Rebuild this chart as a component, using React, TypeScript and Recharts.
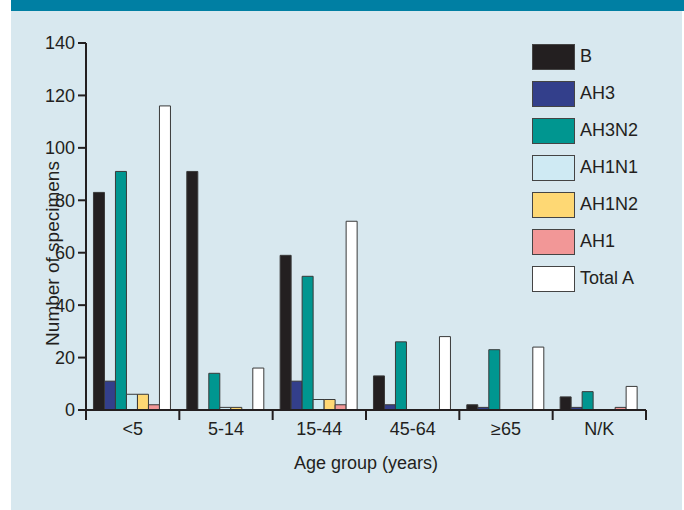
import React from 'react';
import { BarChart, Bar, XAxis, YAxis } from 'recharts';

const ageGroups = ['<5', '5-14', '15-44', '45-64', '≥65', 'N/K'];
const bValues = [83, 91, 59, 13, 2, 5];
const ah3Values = [11, 0, 11, 2, 1, 1];
const ah3n2Values = [91, 14, 51, 26, 23, 7];
const ah1n1Values = [6, 1, 4, 0, 0, 0];
const ah1n2Values = [6, 1, 4, 0, 0, 0];
const ah1Values = [2, 0, 2, 0, 0, 1];
const totalAValues = [116, 16, 72, 28, 24, 9];
const yTicks = [0, 20, 40, 60, 80, 100, 120, 140];

const series = [
  { key: 'B', values: bValues, color: '#231f20' },
  { key: 'AH3', values: ah3Values, color: '#333f8b' },
  { key: 'AH3N2', values: ah3n2Values, color: '#009690' },
  { key: 'AH1N1', values: ah1n1Values, color: '#cfeaf3' },
  { key: 'AH1N2', values: ah1n2Values, color: '#fed874' },
  { key: 'AH1', values: ah1Values, color: '#f29797' },
  { key: 'Total A', values: totalAValues, color: '#ffffff' },
];

const data = ageGroups.map((age, i) => {
  const row: Record<string, any> = { age };
  series.forEach((s) => (row[s.key] = s.values[i]));
  return row;
});

const FONT = '"Liberation Sans", Arial, sans-serif';
const INK = '#231f20';
const FS = 18;
const TICK_GAP = 12;

const LegendBox = () => (
  <div style={{ position: 'absolute', left: 532, top: 38, fontFamily: FONT }}>
    {series.map((s) => (
      <div key={s.key} style={{ display: 'flex', alignItems: 'center', height: 37 }}>
        <div
          style={{
            width: 41,
            height: 24,
            background: s.color,
            border: '1px solid #444',
            boxSizing: 'content-box',
          }}
        />
        <span style={{ marginLeft: 5, fontSize: FS, color: INK }}>{s.key}</span>
      </div>
    ))}
  </div>
);

// category label plus tick marks on the band edges
const AgeTick = (props: any) => {
  const { x, y, payload, index, visibleTicksCount } = props;
  const half = payload.offset || 0;
  const axisY = y - TICK_GAP;
  const isLast = index === visibleTicksCount - 1;
  return (
    <g>
      <line x1={x - half} x2={x - half} y1={axisY} y2={axisY + 10} stroke={INK} strokeWidth={2} />
      {isLast && (
        <line x1={x + half} x2={x + half} y1={axisY} y2={axisY + 10} stroke={INK} strokeWidth={2} />
      )}
      <text x={x} y={y} dy="0.71em" textAnchor="middle" fill={INK} fontSize={FS} fontFamily={FONT}>
        {payload.value}
      </text>
    </g>
  );
};

export default function App() {
  return (
    <div style={{ position: 'fixed', left: 0, top: 0, width: 684, height: 510, background: '#fff' }}>
      <div style={{ position: 'absolute', left: 11, top: 0, width: 671, height: 510, background: '#d8e8ef' }} />
      <div style={{ position: 'absolute', left: 11, top: 0, width: 673, height: 11, background: '#007fa3' }} />
      <div style={{ position: 'absolute', left: 0, top: 0 }}>
        <BarChart
          width={684}
          height={510}
          data={data}
          margin={{ top: 43, right: 38, bottom: 40, left: 0 }}
          barCategoryGap="8%"
          barGap={0}
        >
          <XAxis
            dataKey="age"
            height={60}
            interval={0}
            tickLine={false}
            tickSize={0}
            tickMargin={TICK_GAP}
            axisLine={{ stroke: INK, strokeWidth: 2 }}
            tick={<AgeTick />}
            label={{
              value: 'Age group (years)',
              position: 'insideBottom',
              offset: 1,
              fill: INK,
              fontSize: FS,
              fontFamily: FONT,
            }}
          />
          <YAxis
            width={86}
            domain={[0, 140]}
            ticks={yTicks}
            tickSize={8}
            tickMargin={3}
            axisLine={{ stroke: INK, strokeWidth: 2 }}
            tickLine={{ stroke: INK, strokeWidth: 2 }}
            tick={{ fill: INK, fontSize: FS, fontFamily: FONT }}
            label={{
              content: (props: any) => {
                const vb = props.viewBox;
                const cx = vb.x + 52;
                const cy = vb.y + vb.height / 2 + 27;
                return (
                  <text
                    x={cx}
                    y={cy}
                    transform={`rotate(-90 ${cx} ${cy})`}
                    textAnchor="middle"
                    dominantBaseline="central"
                    fill={INK}
                    fontSize={FS + 1}
                    fontFamily={FONT}
                  >
                    Number of specimens
                  </text>
                );
              },
            }}
          />
          {series.map((s) => (
            <Bar
              key={s.key}
              dataKey={s.key}
              fill={s.color}
              stroke="#3a3a3a"
              strokeWidth={1}
              isAnimationActive={false}
            />
          ))}
        </BarChart>
      </div>
      <LegendBox />
    </div>
  );
}
